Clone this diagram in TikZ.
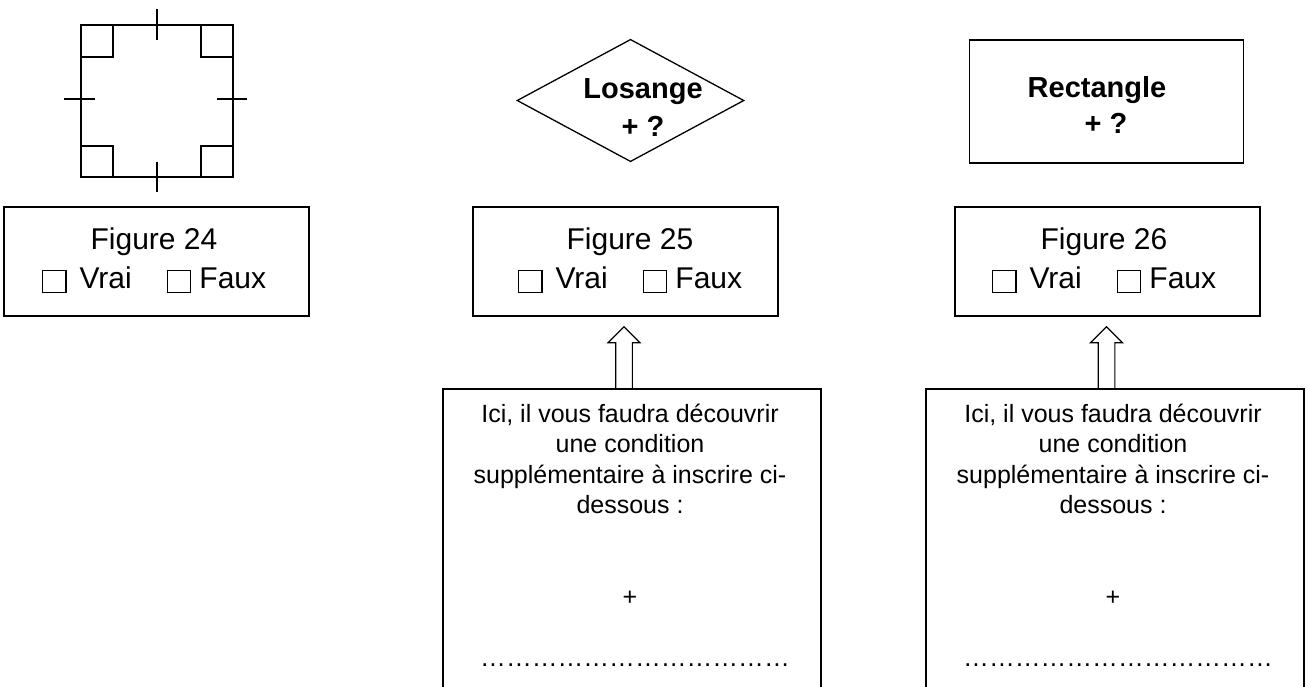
\documentclass[tikz,border=0pt]{standalone}
\usepackage{fontspec}
\setmainfont{Liberation Sans}
\usetikzlibrary{shapes.geometric,calc}
\newcommand{\cbx}{{\setlength{\fboxsep}{0pt}\setlength{\fboxrule}{1.1pt}\raisebox{-3.8pt}{\fbox{\rule{0pt}{21.3pt}\hspace{22.5pt}}}}}
\newcommand{\chkline}{\cbx\hspace{13pt}Vrai\hspace{35pt}\cbx\hspace{8pt}Faux}
\newcommand{\dotfour}{\char"2026\char"2026\char"2026\char"2026}
\newcommand{\dotrow}{\dotfour\dotfour\dotfour}
\begin{document}
\begin{tikzpicture}[x=1pt,y=-1pt,
  figbox/.style={draw,line width=1.5pt,inner sep=0pt,minimum width=305,minimum height=109},
  lowbox/.style={draw,line width=1.5pt,inner sep=0pt,minimum width=378,minimum height=420,anchor=north},
  figtxt/.style={anchor=base,inner sep=0pt,font=\fontsize{30}{36}\selectfont},
  boldtxt/.style={anchor=base,inner sep=0pt,font=\fontsize{29}{35}\selectfont\bfseries},
  lowtxt/.style={anchor=base,inner sep=0pt,font=\fontsize{25}{30}\selectfont},
  dottxt/.style={anchor=base,inner sep=0pt,font=\fontsize{25.8}{30}\selectfont},
  sqline/.style={line width=2pt},
  hollow/.style={draw,line width=1.1pt,line join=miter}
]
\useasboundingbox (0,0) rectangle (1308,686);

% ---- square (figure 24)
\draw[sqline] (80.7,25.2) rectangle (232.7,177.3);
\draw[sqline] (80.7,57.3) -- (112.7,57.3) -- (112.7,25.2);
\draw[sqline] (200.7,25.2) -- (200.7,57.3) -- (232.7,57.3);
\draw[sqline] (80.7,145.5) -- (112.7,145.5) -- (112.7,177.3);
\draw[sqline] (200.7,177.3) -- (200.7,145.5) -- (232.7,145.5);
\draw[sqline] (156.7,9.3) -- (156.7,40);
\draw[sqline] (156.7,161.7) -- (156.7,192.3);
\draw[sqline] (64.3,99.3) -- (95.3,99.3);
\draw[sqline] (216.7,99.3) -- (247.3,99.3);

% ---- diamond (figure 25)
\node[draw,diamond,line width=1.3pt,inner sep=0pt,minimum width=227,minimum height=122.4] (los) at (630.5,100.5) {};
\node[boldtxt] (losA) at (643,98.3) {Losange};
\node[boldtxt] (losB) at (643,136) {+ ?};

% ---- rectangle (figure 26)
\node[draw,line width=1.5pt,inner sep=0pt,minimum width=274,minimum height=123] (rect) at (1106.3,101.7) {};
\node[boldtxt] (rectA) at (1097,97) {Rectangle};
\node[boldtxt] (rectB) at (1106,133) {+ ?};

% ---- figure boxes
\node[figbox] (fig24) at (156.5,261.5) {};
\node[figtxt] (f24a) at (154,249.5) {Figure 24};
\node[figtxt] (f24b) at (154,288.5) {\chkline};

\node[figbox] (fig25) at (625.5,261.5) {};
\node[figtxt] (f25a) at (630,249.5) {Figure 25};
\node[figtxt] (f25b) at (630,288.5) {\chkline};

\node[figbox] (fig26) at (1107.5,261.5) {};
\node[figtxt] (f26a) at (1104,249.5) {Figure 26};
\node[figtxt] (f26b) at (1104,288.5) {\chkline};

% ---- lower boxes
\node[lowbox] (bot25) at (632,388) {};
\node[lowbox] (bot26) at (1115,388) {};

\foreach \b/\cx in {bot25/630, bot26/1113}{
  \node[lowtxt] (\b l1) at (\cx,422) {Ici, il vous faudra découvrir};
  \node[lowtxt] (\b l2) at (\cx,452.5) {une condition};
  \node[lowtxt] (\b l3) at (\cx,483) {supplémentaire à inscrire ci-};
  \node[lowtxt] (\b l4) at (\cx,513.5) {dessous :};
  \node[lowtxt] (\b l5) at (\cx,605) {+};
  \node[dottxt] (\b l6) at (\cx+5,666) {\dotrow};
}

% ---- hollow arrows
\coordinate (t25) at ($(fig25.south)+(-1.5,10)$);
\coordinate (t26) at ($(fig26.south)+(-1,10)$);
\foreach \t/\b in {t25/bot25, t26/bot26}{
  \draw[hollow] ($(\t |- \b.north)+(-8.3,0)$) -- ($(\t)+(-8.3,16)$) -- ($(\t)+(-16,16)$) -- (\t)
     -- ($(\t)+(16,16)$) -- ($(\t)+(8.3,16)$) -- ($(\t |- \b.north)+(8.3,0)$);
}
\end{tikzpicture}
\end{document}
